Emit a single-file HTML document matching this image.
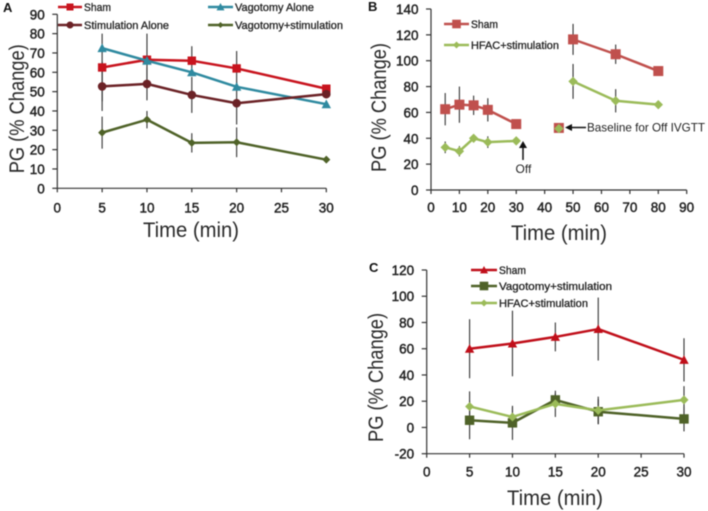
<!DOCTYPE html>
<html lang="en">
<head>
<meta charset="utf-8">
<title>PG percent change panels</title>
<style>
html,body{margin:0;padding:0;background:#fff;width:708px;height:511px;overflow:hidden}
svg{display:block;filter:blur(.4px)}
text{font-family:"Liberation Sans",sans-serif;fill:#222}
.tick{font-size:13.5px;stroke:#222;stroke-width:.45px}
.title{font-size:21px;fill:#2a2a2a}
.leg{font-size:11px;stroke:#222;stroke-width:.3px}
.note{font-size:12px}
.panel{font-size:13px;font-weight:bold;fill:#111}
</style>
</head>
<body>
<svg id="chart" xmlns="http://www.w3.org/2000/svg" width="708" height="511" viewBox="0 0 708 511">
<text class="panel" x="3" y="12">A</text>
<text class="panel" x="368" y="11">B</text>
<text class="panel" x="369" y="272">C</text>
<text class="note" x="515.500" y="173">Off</text>
<text class="note" x="587" y="131.500" textLength="118" lengthAdjust="spacingAndGlyphs">Baseline for Off IVGTT</text>
<g>
<line x1="523" y1="160" x2="523" y2="146" stroke="#111" stroke-width="1.500"/>
<polygon points="523,141 519,148 527,148" fill="#111"/>
</g>
<g>
<line x1="586" y1="127.500" x2="570" y2="127.500" stroke="#111" stroke-width="1.500"/>
<polygon points="565,127.500 572,124 572,131" fill="#111"/>
</g>
</svg>
<script>
// Panel A
const aXTicks = [0, 5, 10, 15, 20, 25, 30];
const aYTicks = [0, 10, 20, 30, 40, 50, 60, 70, 80, 90];
const aTimes = [5, 10, 15, 20, 30];
const aSham = [62.5, 66.5, 66, 62, 51.5];
const aShamErr = [17.5, 13.5, 7.5, 9, 0];
const aVagotomy = [72.5, 66, 60, 52.5, 43.5];
const aVagotomyErr = [0, 0, 0, 0, 0];
const aStimulation = [52.7, 54, 48.3, 44, 48.7];
const aStimulationErr = [12.7, 8.5, 9.3, 11, 0];
const aVagStim = [28.8, 35.5, 23.5, 23.8, 14.8];
const aVagStimErr = [8.3, 4.5, 5, 7.7, 0];

// Panel B (null breaks the line)
const bXTicks = [0, 10, 20, 30, 40, 50, 60, 70, 80, 90];
const bYTicks = [0, 20, 40, 60, 80, 100, 120, 140];
const bTimes = [5, 10, 15, 20, 30, null, 45, null, 50, 65, 80];
const bSham = [62.5, 66, 65.5, 62, 51, null, 48, null, 116.5, 105, 92];
const bShamErr = [12.5, 14, 7.5, 9, 0, null, 0, null, 12, 7.5, 0];
const bHfac = [33, 30, 40, 37, 38, null, 47.5, null, 84, 69, 66];
const bHfacErr = [4.5, 4, 2, 4.5, 0, null, 0, null, 13.5, 9, 0];

// Panel C
const cXTicks = [0, 5, 10, 15, 20, 25, 30];
const cYTicks = [-20, 0, 20, 40, 60, 80, 100, 120];
const cTimes = [5, 10, 15, 20, 30];
const cSham = [60, 64, 69, 75, 51.5];
const cShamErr = [22.5, 25, 11, 24, 16.5];
const cVagStim = [5.5, 3.5, 21, 12, 6.5];
const cVagStimErr = [14.5, 13, 5, 9.5, 9.5];
const cHfac = [16, 8, 18, 13, 21];
const cHfacErr = [11.5, 7.5, 10, 10.5, 10.5];

const NS = 'http://www.w3.org/2000/svg';
const root = document.getElementById('chart');

function make(parent, tag, attrs, name) {
  const el = document.createElementNS(NS, tag);
  for (const k in attrs) el.setAttribute(k, attrs[k]);
  
  
  parent.appendChild(el);
  return el;
}

function marker(parent, kind, cx, cy, s, fill, name) {
  if (kind === 'square') {
    return make(parent, 'rect', {x: cx - s, y: cy - s, width: 2 * s, height: 2 * s, fill: fill}, name);
  }
  if (kind === 'circle') {
    return make(parent, 'circle', {cx: cx, cy: cy, r: s, fill: fill}, name);
  }
  if (kind === 'triangle') {
    return make(parent, 'polygon', {points: [cx, cy - s, cx + s, cy + s * 0.85, cx - s, cy + s * 0.85].join(' '), fill: fill}, name);
  }
  return make(parent, 'polygon', {points: [cx, cy - s, cx + s, cy, cx, cy + s, cx - s, cy].join(' '), fill: fill}, name);
}

function drawPanel(p) {
  const g = make(root, 'g', {}, p.id);
  const sx = v => p.x0 + (v - p.xMin) * (p.x1 - p.x0) / (p.xMax - p.xMin);
  const sy = v => p.y0 + (v - p.yMin) * (p.y1 - p.y0) / (p.yMax - p.yMin);
  const axis = {stroke: '#333', 'stroke-width': 1.2};

  make(g, 'line', Object.assign({x1: p.x0, x2: p.x0, y1: p.y0, y2: p.y1}, axis), 'y-axis');
  make(g, 'line', Object.assign({x1: p.x0, x2: p.x1, y1: p.y0, y2: p.y0}, axis), 'x-axis');

  p.yTicks.forEach(t => {
    make(g, 'line', Object.assign({x1: p.x0 - 5, x2: p.x0, y1: sy(t), y2: sy(t)}, axis), 'y-tick');
    const lab = make(g, 'text', {x: p.x0 - 12.5, y: sy(t) + 5, 'text-anchor': 'end', class: 'tick'}, 'y-tick-label');
    lab.textContent = t;
  });
  p.xTicks.forEach(t => {
    make(g, 'line', Object.assign({x1: sx(t), x2: sx(t), y1: p.y0, y2: p.y0 + 4}, axis), 'x-tick');
    const lab = make(g, 'text', {x: sx(t), y: p.y0 + p.xLabelGap, 'text-anchor': 'middle', class: 'tick'}, 'x-tick-label');
    lab.textContent = t;
  });

  const yt = make(g, 'text', {class: 'title', 'text-anchor': 'middle', textLength: p.yTitleLen, lengthAdjust: 'spacingAndGlyphs', transform: 'translate(' + p.yTitleX + ',' + ((p.y0 + p.y1) / 2 + p.yTitleShift) + ') rotate(-90)'}, 'y-axis-title');
  yt.textContent = 'PG (% Change)';
  const xt = make(g, 'text', {class: 'title', 'text-anchor': 'middle', x: p.xTitleX, y: p.xTitleY, textLength: 96, lengthAdjust: 'spacingAndGlyphs'}, 'x-axis-title');
  xt.textContent = 'Time (min)';

  p.series.forEach(s => {
    p.times.forEach((t, i) => {
      if (t === null || !s.err[i]) return;
      make(g, 'line', {x1: sx(t), x2: sx(t), y1: sy(s.values[i] - s.err[i]), y2: sy(s.values[i] + s.err[i]), stroke: '#333', 'stroke-width': 1.1}, 'error-bar');
    });
  });

  p.series.forEach(s => {
    let d = '';
    let pen = false;
    p.times.forEach((t, i) => {
      if (t === null || s.values[i] === null) { pen = false; return; }
      d += (pen ? 'L' : 'M') + sx(t) + ' ' + sy(s.values[i]);
      pen = true;
    });
    make(g, 'path', {d: d, fill: 'none', stroke: s.color, 'stroke-width': 2.5, 'stroke-linejoin': 'round'}, s.name + '-line');
    p.times.forEach((t, i) => {
      if (t === null || s.values[i] === null) return;
      marker(g, s.kind, sx(t), sy(s.values[i]), s.size, s.color, s.name + '-point');
    });

    const lg = make(g, 'g', {}, 'legend-entry');
    make(lg, 'line', {x1: s.lx, x2: s.lx + s.ll, y1: s.ly, y2: s.ly, stroke: s.color, 'stroke-width': 2.4}, 'legend-line');
    marker(lg, s.kind, s.lx + s.ll / 2, s.ly, s.legSize, s.color, 'legend-marker');
    const lt = make(lg, 'text', {x: s.lx + s.ll + 2, y: s.ly + 4, class: 'leg', textLength: s.tl, lengthAdjust: 'spacingAndGlyphs'}, 'legend-label');
    lt.textContent = s.label;
  });
}

drawPanel({
  id: 'panel-a', x0: 57.3, x1: 326.3, xMin: 0, xMax: 30, y0: 188.3, y1: 14.3, yMin: 0, yMax: 90,
  xTicks: aXTicks, yTicks: aYTicks, times: aTimes, xLabelGap: 24,
  yTitleX: 24, yTitleShift: 7.5, yTitleLen: 129, xTitleX: 191, xTitleY: 237,
  series: [
    {name: 'sham', label: 'Sham', values: aSham, err: aShamErr, color: '#c8141e', kind: 'square', size: 4.2, legSize: 3.5, lx: 58, ly: 7, ll: 24, tl: 27},
    {name: 'vagotomy-alone', label: 'Vagotomy Alone', values: aVagotomy, err: aVagotomyErr, color: '#2f8aa0', kind: 'triangle', size: 4.7, legSize: 4, lx: 208, ly: 7, ll: 25, tl: 79},
    {name: 'stimulation-alone', label: 'Stimulation Alone', values: aStimulation, err: aStimulationErr, color: '#6b2226', kind: 'circle', size: 4.3, legSize: 3.5, lx: 58, ly: 25, ll: 24, tl: 85},
    {name: 'vagotomy-stimulation', label: 'Vagotomy+stimulation', values: aVagStim, err: aVagStimErr, color: '#4f6228', kind: 'diamond', size: 4, legSize: 3, lx: 208, ly: 25, ll: 25, tl: 108}
  ]
});

drawPanel({
  id: 'panel-b', x0: 431, x1: 686.7, xMin: 0, xMax: 90, y0: 190, y1: 9, yMin: 0, yMax: 140,
  xTicks: bXTicks, yTicks: bYTicks, times: bTimes, xLabelGap: 22,
  yTitleX: 386, yTitleShift: 8, yTitleLen: 129, xTitleX: 559, xTitleY: 240,
  series: [
    {name: 'sham', label: 'Sham', values: bSham, err: bShamErr, color: '#c0504d', kind: 'square', size: 5, legSize: 4.3, lx: 444, ly: 24, ll: 25, tl: 27},
    {name: 'hfac-stimulation', label: 'HFAC+stimulation', values: bHfac, err: bHfacErr, color: '#9bbb59', kind: 'diamond', size: 4.7, legSize: 3.5, lx: 444, ly: 45, ll: 25, tl: 88}
  ]
});

drawPanel({
  id: 'panel-c', x0: 426.7, x1: 684, xMin: 0, xMax: 30, y0: 453.7, y1: 270, yMin: -20, yMax: 120,
  xTicks: cXTicks, yTicks: cYTicks, times: cTimes, xLabelGap: 23,
  yTitleX: 383, yTitleShift: 15.6, yTitleLen: 129, xTitleX: 555, xTitleY: 505,
  series: [
    {name: 'sham', label: 'Sham', values: cSham, err: cShamErr, color: '#c00f1a', kind: 'triangle', size: 4.7, legSize: 4, lx: 471, ly: 270, ll: 26, tl: 27},
    {name: 'vagotomy-stimulation', label: 'Vagotomy+stimulation', values: cVagStim, err: cVagStimErr, color: '#4f6228', kind: 'square', size: 4.7, legSize: 4.3, lx: 471, ly: 286, ll: 26, tl: 113},
    {name: 'hfac-stimulation', label: 'HFAC+stimulation', values: cHfac, err: cHfacErr, color: '#9bbb59', kind: 'diamond', size: 4.5, legSize: 3.5, lx: 471, ly: 303, ll: 26, tl: 89}
  ]
});
</script>
</body>
</html>
